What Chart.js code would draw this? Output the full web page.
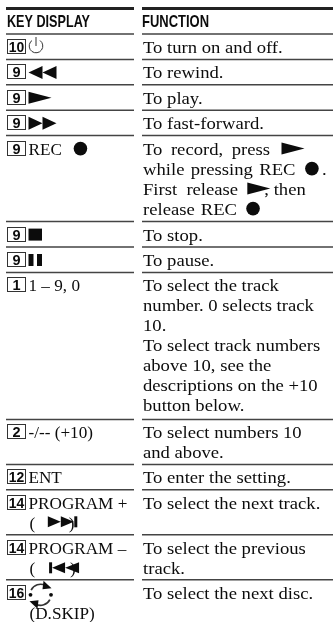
<!DOCTYPE html>
<html>
<head>
<meta charset="utf-8">
<style>
  html, body { margin: 0; padding: 0; background: #fff; }
  canvas { display: block; filter: blur(0.3px); }
</style>
<script src="https://cdn.jsdelivr.net/npm/chart.js@4"></script>
</head>
<body>
<canvas id="keyChart" width="333" height="622"></canvas>
<script>
const headers = ['KEY DISPLAY', 'FUNCTION'];
const keyNumbers = ['10', '9', '9', '9', '9', '9', '9', '1', '2', '12', '14', '14', '16'];
// {name} inside a string stands for a key symbol, {gap} is a small space
const keyLabels = [
  ['{power}'],
  ['{rew}'],
  ['{play}'],
  ['{ff}'],
  ['REC  {gap}{rec}'],
  ['{stop}'],
  ['{pause}'],
  ['1 – 9, 0'],
  ['-/-- (+10)'],
  ['ENT'],
  ['PROGRAM +', '(  {gap}{next}'],
  ['PROGRAM –', '(   {prev}'],
  ['{skip}', '(D.SKIP)']
];
const functionLines = [
  ['To turn on and off.'],
  ['To rewind.'],
  ['To play.'],
  ['To fast-forward.'],
  ['To record, press {gap}{play}', 'while pressing REC {gap}{rec}{gap}.', 'First release {play}, then', 'release REC {gap}{rec}'],
  ['To stop.'],
  ['To pause.'],
  ['To select the track', 'number. 0 selects track', '10.', 'To select track numbers', 'above 10, see the', 'descriptions on the +10', 'button below.'],
  ['To select numbers 10', 'and above.'],
  ['To enter the setting.'],
  ['To select the next track.'],
  ['To select the previous', 'track.'],
  ['To select the next disc.']
];

const ROW_HEIGHT = { 1: 25.4, 2: 45, 4: 86, 7: 147 }; // by number of text lines
const LINE = 20, FIRST_RULE = 34, HEAD_RULE = 8.5;
const LEFT = [6, 134], RIGHT = [142, 333], TEXT_X = 143;
const INK = '#0c0c0c';
const SERIF = '16.5px "Liberation Serif"';
const KEY_SCALE = 1.04, FN_SCALE = 1.13;
// the lines that were set justified in the original
const wideLines = {
  'To record, press {gap}{play}': 3.4,
  'while pressing REC {gap}{rec}{gap}.': 1.5,
  'First release {play}, then': 4,
  'release REC {gap}{rec}': 1.2
};

// row top edges follow from how many lines each row holds
const rowTops = [];
functionLines.reduce((top, lines, i) => {
  rowTops.push(top);
  return top + ROW_HEIGHT[Math.max(lines.length, keyLabels[i].length)];
}, FIRST_RULE);

function ruleData(ys) {
  const pts = [];
  ys.forEach(y => {
    pts.push({ x: LEFT[0], y }, { x: LEFT[1], y }, { x: LEFT[1], y: null });
    pts.push({ x: RIGHT[0], y }, { x: RIGHT[1], y }, { x: RIGHT[1], y: null });
  });
  return pts;
}

const symbolWidth = { gap: 3, power: 16, rew: 28, play: 17, ff: 29, rec: 14, stop: 14, pause: 14, next: 30, prev: 31, skip: 24 };

function tri(c, x0, x1, cy, h) {
  c.beginPath();
  c.moveTo(x0, cy - h);
  c.lineTo(x1, cy);
  c.lineTo(x0, cy + h);
  c.closePath();
  c.fill();
}

function scaledText(c, str, x, base, sx) {
  c.save();
  c.translate(x, base);
  c.scale(sx, 1);
  c.fillText(str, 0, 0);
  c.restore();
}

function drawSymbol(c, name, x, base, scale) {
  const cy = base - 6;
  c.save();
  c.fillStyle = INK;
  c.strokeStyle = '#333';
  if (name === 'power') {
    c.lineWidth = 1;
    c.beginPath();
    c.arc(x + 7.5, cy - 1, 6.8, -Math.PI * 0.3, Math.PI * 1.3);
    c.moveTo(x + 7.5, cy - 10);
    c.lineTo(x + 7.5, cy - 1);
    c.stroke();
  } else if (name === 'rew') {
    tri(c, x + 14, x, cy, 6.5);
    tri(c, x + 28, x + 14, cy, 6.5);
  } else if (name === 'play') {
    tri(c, x, x + 23, cy, 6);
  } else if (name === 'ff') {
    tri(c, x, x + 14, cy, 6.5);
    tri(c, x + 14, x + 28, cy, 6.5);
  } else if (name === 'rec') {
    c.beginPath();
    c.arc(x + 7, cy, 6.8, 0, Math.PI * 2);
    c.fill();
  } else if (name === 'stop') {
    c.fillRect(x, cy - 6, 13.5, 12);
  } else if (name === 'pause') {
    c.fillRect(x, cy - 6, 5, 12);
    c.fillRect(x + 8.5, cy - 6, 5, 12);
  } else if (name === 'next') {
    const ny = cy - 1;
    scaledText(c, ')', x + 22, base, scale);
    tri(c, x + 1, x + 14, ny, 5.5);
    tri(c, x + 14, x + 27, ny, 5.5);
    c.fillRect(x + 27.5, ny - 5.5, 3, 11);
  } else if (name === 'prev') {
    scaledText(c, ')', x + 22, base, scale);
    c.fillRect(x + 1, cy - 5.5, 3, 11);
    tri(c, x + 17, x + 4, cy, 5.5);
    tri(c, x + 31, x + 17, cy, 5.5);
  } else if (name === 'skip') {
    const mx = x + 12, my = cy + 2, r = 10.5;
    c.lineWidth = 1.7;
    c.beginPath();
    c.arc(mx, my, r, -Math.PI * 0.85, -Math.PI * 0.25);
    c.stroke();
    c.beginPath();
    c.arc(mx, my, r, Math.PI * 0.15, Math.PI * 0.75);
    c.stroke();
    c.beginPath();
    c.moveTo(mx + 3, my - 14);
    c.lineTo(mx + 11, my - 6.5);
    c.lineTo(mx + 2, my - 5.5);
    c.closePath();
    c.fill();
    c.beginPath();
    c.moveTo(mx - 3, my + 14);
    c.lineTo(mx - 11, my + 6.5);
    c.lineTo(mx - 2, my + 5.5);
    c.closePath();
    c.fill();
    c.beginPath();
    c.arc(mx - 10, my, 1.9, 0, Math.PI * 2);
    c.fill();
    c.beginPath();
    c.arc(mx + 10.5, my, 1.9, 0, Math.PI * 2);
    c.fill();
  }
  c.restore();
}

function drawRich(c, str, x, base, scale) {
  const spread = wideLines[str] || 0;
  let seenSymbol = false;
  str.split(/(\{\w+\})/).forEach(part => {
    if (!part) return;
    const m = part.match(/^\{(\w+)\}$/);
    if (m) {
      if (m[1] !== 'gap') {
        drawSymbol(c, m[1], x, base, scale);
        seenSymbol = true;
      }
      x += symbolWidth[m[1]];
    } else {
      // only the words before the first symbol get spread out
      c.wordSpacing = (seenSymbol ? 0 : spread) + 'px';
      scaledText(c, part, x, base, scale);
      x += c.measureText(part).width * scale;
      c.wordSpacing = '0px';
    }
  });
}

const tablePlugin = {
  id: 'tableText',
  afterDatasetsDraw(chart) {
    const c = chart.ctx, sx = chart.scales.x, sy = chart.scales.y;
    c.save();
    c.textBaseline = 'alphabetic';
    c.fillStyle = INK;

    // header: the original face is a condensed bold sans
    c.font = 'bold 16.5px "Liberation Sans"';
    scaledText(c, headers[0], sx.getPixelForValue(7), sy.getPixelForValue(26.5), 83 / c.measureText(headers[0]).width);
    scaledText(c, headers[1], sx.getPixelForValue(TEXT_X - 1), sy.getPixelForValue(26.5), 67 / c.measureText(headers[1]).width);

    rowTops.forEach((top, i) => {
      const base = sy.getPixelForValue(top + 19);
      // boxed key number
      const num = keyNumbers[i];
      const bx = sx.getPixelForValue(7);
      c.strokeStyle = '#333';
      c.lineWidth = 1;
      c.strokeRect(bx + 0.5, Math.round(base) - 13.5, 18, 14);
      c.font = 'bold 14.5px "Liberation Sans"';
      const w = c.measureText(num).width;
      const fit = Math.min(1, 15.5 / w);
      scaledText(c, num, bx + 9.5 - w * fit / 2, Math.round(base) - 1.5, fit);

      c.font = SERIF;
      keyLabels[i].forEach((line, j) => {
        const x = sx.getPixelForValue(j === 0 ? 28.5 : 29.5);
        drawRich(c, line, x, base + j * LINE, KEY_SCALE);
      });
      functionLines[i].forEach((line, j) => {
        drawRich(c, line, sx.getPixelForValue(TEXT_X), base + j * LINE, FN_SCALE);
      });
    });
    c.restore();
  }
};

new Chart(document.getElementById('keyChart'), {
  type: 'scatter',
  data: {
    datasets: [
      { data: ruleData([HEAD_RULE]), showLine: true, spanGaps: false, borderColor: '#222', borderWidth: 3, pointRadius: 0 },
      { data: ruleData(rowTops), showLine: true, spanGaps: false, borderColor: '#444', borderWidth: 1.5, pointRadius: 0 }
    ]
  },
  options: {
    responsive: false,
    animation: false,
    layout: { padding: 0 },
    plugins: { legend: { display: false }, tooltip: { enabled: false } },
    scales: {
      x: { type: 'linear', display: false, min: 0, max: 333 },
      y: { type: 'linear', display: false, min: 0, max: 622, reverse: true }
    }
  },
  plugins: [tablePlugin]
});
</script>
</body>
</html>
